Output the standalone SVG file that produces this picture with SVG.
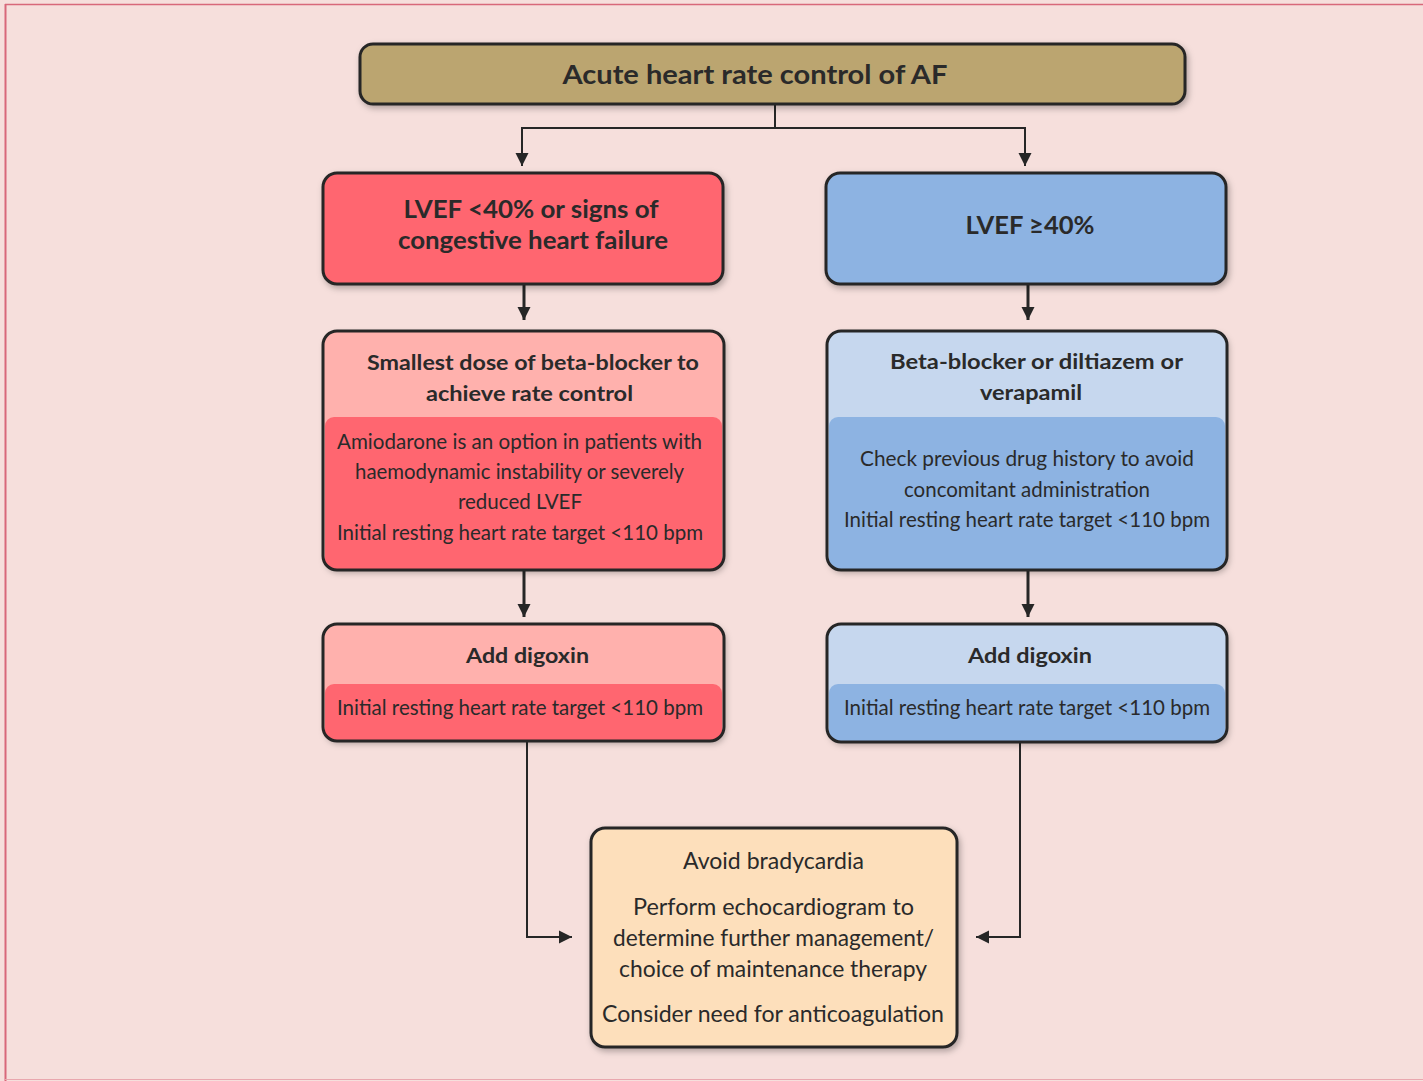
<svg xmlns="http://www.w3.org/2000/svg" width="1423" height="1081" viewBox="0 0 1423 1081">
<defs>
<style>
.box{stroke:#262626;stroke-width:3;}
.outline{fill:none;stroke:#262626;stroke-width:3;}
.t{font-family:Lato,"Liberation Sans",sans-serif;fill:#2a2a2a;text-anchor:middle;}
.b{font-weight:bold;}
.conn{fill:none;stroke:#262626;stroke-width:2;}
.thick{stroke-width:3;}
</style>
<filter id="sh" x="-10%" y="-10%" width="125%" height="130%">
<feDropShadow dx="2" dy="3" stdDeviation="3" flood-color="#000" flood-opacity="0.28"/>
</filter>
<marker id="ah" markerUnits="userSpaceOnUse" markerWidth="14" markerHeight="14" viewBox="0 0 14 14" refX="13" refY="7" orient="auto">
<path d="M0,0.5 L13,7 L0,13.5 z" fill="#262626"/>
</marker>
<clipPath id="cL2"><rect x="323" y="331" width="401" height="239" rx="14"/></clipPath>
<clipPath id="cR2"><rect x="827" y="331" width="400" height="239" rx="14"/></clipPath>
<clipPath id="cL3"><rect x="323" y="624" width="401" height="117" rx="14"/></clipPath>
<clipPath id="cR3"><rect x="827" y="624" width="400" height="118" rx="14"/></clipPath>
</defs>

<rect x="0" y="0" width="1423" height="1081" fill="#F6DFDC"/>
<line x1="5.5" y1="4" x2="5.5" y2="1081" stroke="#D8687A" stroke-width="2"/>
<line x1="5" y1="4.5" x2="1423" y2="4.5" stroke="#D8687A" stroke-width="1.5"/>
<line x1="5" y1="1079.5" x2="1423" y2="1079.5" stroke="#E9A7AE" stroke-width="1"/>

<g id="connectors">
<polyline class="conn" points="775,104 775,128 522,128 522,166" marker-end="url(#ah)"/>
<polyline class="conn" points="775,128 1025,128 1025,166" marker-end="url(#ah)"/>
<line class="conn thick" x1="524" y1="284" x2="524" y2="320" marker-end="url(#ah)"/>
<line class="conn thick" x1="1028" y1="284" x2="1028" y2="320" marker-end="url(#ah)"/>
<line class="conn thick" x1="524" y1="570" x2="524" y2="617" marker-end="url(#ah)"/>
<line class="conn thick" x1="1028" y1="570" x2="1028" y2="617" marker-end="url(#ah)"/>
<polyline class="conn" points="527,741 527,937 572,937" marker-end="url(#ah)"/>
<polyline class="conn" points="1020,742 1020,937 976,937" marker-end="url(#ah)"/>
</g>

<g id="top">
<rect class="box" x="360" y="44" width="825" height="60" rx="13" fill="#BBA570" filter="url(#sh)"/>
<text class="t b" x="755" y="84" font-size="27" textLength="385" lengthAdjust="spacingAndGlyphs">Acute heart rate control of AF</text>
</g>

<g id="lvef-low">
<rect class="box" x="323" y="173" width="400" height="111" rx="14" fill="#FF6670" filter="url(#sh)"/>
<text class="t b" x="531" y="218" font-size="24" textLength="255" lengthAdjust="spacingAndGlyphs">LVEF &lt;40% or signs of</text>
<text class="t b" x="533" y="249" font-size="24" textLength="270" lengthAdjust="spacingAndGlyphs">congestive heart failure</text>
</g>

<g id="lvef-high">
<rect class="box" x="826" y="173" width="400" height="111" rx="14" fill="#8DB3E2" filter="url(#sh)"/>
<text class="t b" x="1030" y="234" font-size="24" textLength="129" lengthAdjust="spacingAndGlyphs">LVEF ≥40%</text>
</g>

<g id="beta-blocker-left">
<rect x="323" y="331" width="401" height="239" rx="14" fill="#FFB1AD" filter="url(#sh)"/>
<rect x="325" y="417" width="397" height="170" rx="9" fill="#FF6670" clip-path="url(#cL2)"/>
<rect class="outline" x="323" y="331" width="401" height="239" rx="14"/>
<text class="t b" x="533" y="370" font-size="21" textLength="332" lengthAdjust="spacingAndGlyphs">Smallest dose of beta-blocker to</text>
<text class="t b" x="529.5" y="401" font-size="21" textLength="207" lengthAdjust="spacingAndGlyphs">achieve rate control</text>
<text class="t" x="519.5" y="449" font-size="21" textLength="365" lengthAdjust="spacingAndGlyphs">Amiodarone is an option in patients with</text>
<text class="t" x="519.5" y="479" font-size="21" textLength="329" lengthAdjust="spacingAndGlyphs">haemodynamic instability or severely</text>
<text class="t" x="520" y="509" font-size="21" textLength="124" lengthAdjust="spacingAndGlyphs">reduced LVEF</text>
<text class="t" x="520" y="540" font-size="21" textLength="366" lengthAdjust="spacingAndGlyphs">Initial resting heart rate target &lt;110 bpm</text>
</g>

<g id="beta-blocker-right">
<rect x="827" y="331" width="400" height="239" rx="14" fill="#C6D7EE" filter="url(#sh)"/>
<rect x="829" y="417" width="396" height="170" rx="9" fill="#8DB3E2" clip-path="url(#cR2)"/>
<rect class="outline" x="827" y="331" width="400" height="239" rx="14"/>
<text class="t b" x="1036.5" y="369" font-size="21" textLength="293" lengthAdjust="spacingAndGlyphs">Beta-blocker or diltiazem or</text>
<text class="t b" x="1031" y="400" font-size="21" textLength="102" lengthAdjust="spacingAndGlyphs">verapamil</text>
<text class="t" x="1027" y="466" font-size="21" textLength="334" lengthAdjust="spacingAndGlyphs">Check previous drug history to avoid</text>
<text class="t" x="1027" y="497" font-size="21" textLength="246" lengthAdjust="spacingAndGlyphs">concomitant administration</text>
<text class="t" x="1027" y="527" font-size="21" textLength="366" lengthAdjust="spacingAndGlyphs">Initial resting heart rate target &lt;110 bpm</text>
</g>

<g id="digoxin-left">
<rect x="323" y="624" width="401" height="117" rx="14" fill="#FFB1AD" filter="url(#sh)"/>
<rect x="325" y="684" width="397" height="80" rx="9" fill="#FF6670" clip-path="url(#cL3)"/>
<rect class="outline" x="323" y="624" width="401" height="117" rx="14"/>
<text class="t b" x="527.5" y="663" font-size="21" textLength="123" lengthAdjust="spacingAndGlyphs">Add digoxin</text>
<text class="t" x="520" y="715" font-size="21" textLength="366" lengthAdjust="spacingAndGlyphs">Initial resting heart rate target &lt;110 bpm</text>
</g>

<g id="digoxin-right">
<rect x="827" y="624" width="400" height="118" rx="14" fill="#C6D7EE" filter="url(#sh)"/>
<rect x="829" y="684" width="396" height="80" rx="9" fill="#8DB3E2" clip-path="url(#cR3)"/>
<rect class="outline" x="827" y="624" width="400" height="118" rx="14"/>
<text class="t b" x="1030" y="663" font-size="21" textLength="124" lengthAdjust="spacingAndGlyphs">Add digoxin</text>
<text class="t" x="1027" y="715" font-size="21" textLength="366" lengthAdjust="spacingAndGlyphs">Initial resting heart rate target &lt;110 bpm</text>
</g>

<g id="final">
<rect class="box" x="591" y="828" width="366" height="219" rx="14" fill="#FDDFBB" filter="url(#sh)"/>
<text class="t" x="773.5" y="869" font-size="23" textLength="181" lengthAdjust="spacingAndGlyphs">Avoid bradycardia</text>
<text class="t" x="773.5" y="915" font-size="23" textLength="281" lengthAdjust="spacingAndGlyphs">Perform echocardiogram to</text>
<text class="t" x="773.5" y="946" font-size="23" textLength="321" lengthAdjust="spacingAndGlyphs">determine further management/</text>
<text class="t" x="773" y="977" font-size="23" textLength="308" lengthAdjust="spacingAndGlyphs">choice of maintenance therapy</text>
<text class="t" x="773" y="1022" font-size="23" textLength="342" lengthAdjust="spacingAndGlyphs">Consider need for anticoagulation</text>
</g>
</svg>
